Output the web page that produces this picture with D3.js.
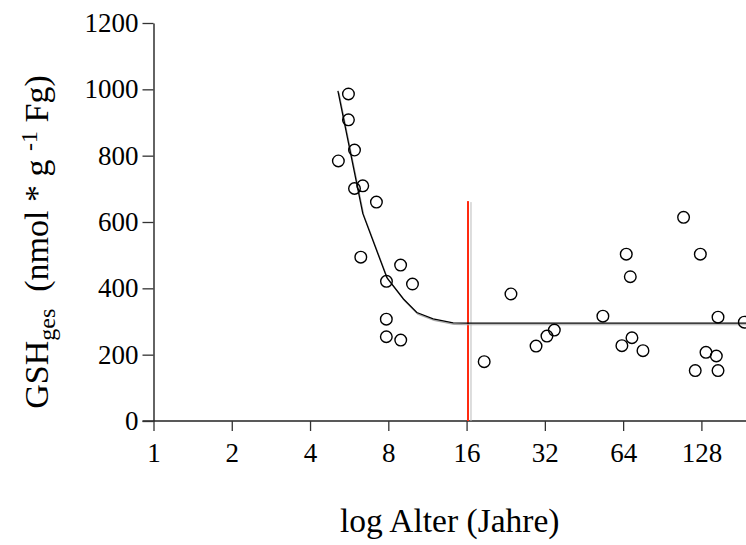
<!DOCTYPE html>
<html>
<head>
<meta charset="utf-8">
<script src="https://cdn.jsdelivr.net/npm/d3@7/dist/d3.min.js"></script>
<style>
  html, body { margin: 0; padding: 0; background: #fff; }
  svg { display: block; }
  text { font-family: "Liberation Serif", "Times New Roman", serif; fill: #000; }
</style>
</head>
<body>
<svg id="chart" width="746" height="545"></svg>
<script>
// Measured GSH contents per individual: age (years) and GSH (nmol * g^-1 Fg)
const ages = [5.14, 5.62, 5.62, 5.93, 5.93, 6.38, 6.27, 7.20, 7.87, 7.86, 7.86, 8.92, 8.93, 9.91,
              18.7, 23.7, 29.6, 32.6, 34.8, 53.5, 63.3, 65.8, 68.2, 69.2, 76.3,
              109.3, 121.2, 126.8, 133.3, 146.1, 148.3, 148.3, 187.2];
const gsh  = [784, 986, 908, 817, 701, 709, 494, 660, 421, 307, 254, 470, 244, 413,
              179, 383, 226, 256, 274, 316, 227, 503, 435, 251, 212,
              614, 152, 503, 207, 196, 313, 152, 298];

// Fitted decay curve with plateau
const fitAges = [5.12, 6.38, 7.90, 9.15, 10.3, 11.9, 14.2, 16.0, 190];
const fitGsh  = [995, 626, 432, 368, 327, 308, 296, 295, 295];

// Break point marker
const breakAge = 16.2;
const breakTop = 663;

const xTicks = [1, 2, 4, 8, 16, 32, 64, 128];
const yTicks = [0, 200, 400, 600, 800, 1000, 1200];

const svg = d3.select("#chart");

const x = d3.scaleLog().base(2).domain([1, 190]).range([153.5, 746]);
const y = d3.scaleLinear().domain([0, 1200]).range([421, 23]);

// Axes
const yAxis = d3.axisLeft(y).tickValues(yTicks).tickFormat(d3.format("d"))
  .tickSize(11).tickSizeOuter(0).tickPadding(4);
const xAxis = d3.axisBottom(x).tickValues(xTicks).tickFormat(d3.format("d"))
  .tickSize(10).tickSizeOuter(0).tickPadding(12);

const gx = svg.append("g").attr("transform", `translate(0,${y(0)})`).call(xAxis);
const gy = svg.append("g").attr("transform", `translate(${x(1)},0)`).call(yAxis);

[gx, gy].forEach(g => {
  g.select(".domain").attr("stroke", "#222").attr("stroke-width", 1.4);
  g.selectAll(".tick line").attr("stroke", "#333").attr("stroke-width", 1.3);
  g.selectAll(".tick text").style("font-size", "27px").attr("fill", "#000")
    .style("font-family", '"Liberation Serif", "Times New Roman", serif');
});
// extend x axis line to the left edge of the 0 tick
gx.select(".domain").attr("d", `M${x(1) - 11},0H746`);

// Break point marker (red line with faint shadow)
svg.append("line")
  .attr("x1", x(breakAge) + 3).attr("x2", x(breakAge) + 3)
  .attr("y1", y(breakTop) + 1).attr("y2", y(0))
  .attr("stroke", "#bbb").attr("stroke-width", 1);
svg.append("line")
  .attr("x1", x(breakAge)).attr("x2", x(breakAge))
  .attr("y1", y(breakTop)).attr("y2", y(0))
  .attr("stroke", "#ff2a10").attr("stroke-width", 2);

// Fitted curve with faint shadow
const fit = fitAges.map((a, i) => [a, fitGsh[i]]);
const line = d3.line().x(d => x(d[0])).y(d => y(d[1]));
svg.append("path").datum(fit)
  .attr("d", line).attr("transform", "translate(1,1.6)")
  .attr("fill", "none").attr("stroke", "#aaa").attr("stroke-width", 1.2);
svg.append("path").datum(fit)
  .attr("d", line)
  .attr("fill", "none").attr("stroke", "#000").attr("stroke-width", 1.3);

// Data points
svg.append("g").selectAll("circle")
  .data(ages.map((a, i) => [a, gsh[i]]))
  .join("circle")
  .attr("cx", d => x(d[0]))
  .attr("cy", d => y(d[1]))
  .attr("r", 5.8)
  .attr("fill", "none")
  .attr("stroke", "#000")
  .attr("stroke-width", 1.4);

// Axis titles
svg.append("text")
  .attr("x", (x(1) + 746) / 2)
  .attr("y", 532)
  .attr("text-anchor", "middle")
  .style("font-size", "33.5px")
  .text("log Alter (Jahre)");

const yt = svg.append("text")
  .attr("transform", "translate(48,242) rotate(-90)")
  .attr("text-anchor", "middle")
  .style("font-size", "34px");
yt.append("tspan").text("GSH");
yt.append("tspan").attr("baseline-shift", "-28%").style("font-size", "24px").text("ges");
yt.append("tspan").text("\u00a0\u00a0(nmol * g\u00a0");
yt.append("tspan").attr("baseline-shift", "45%").style("font-size", "24px").text("-1");
yt.append("tspan").text("\u00a0Fg)");
</script>
</body>
</html>
